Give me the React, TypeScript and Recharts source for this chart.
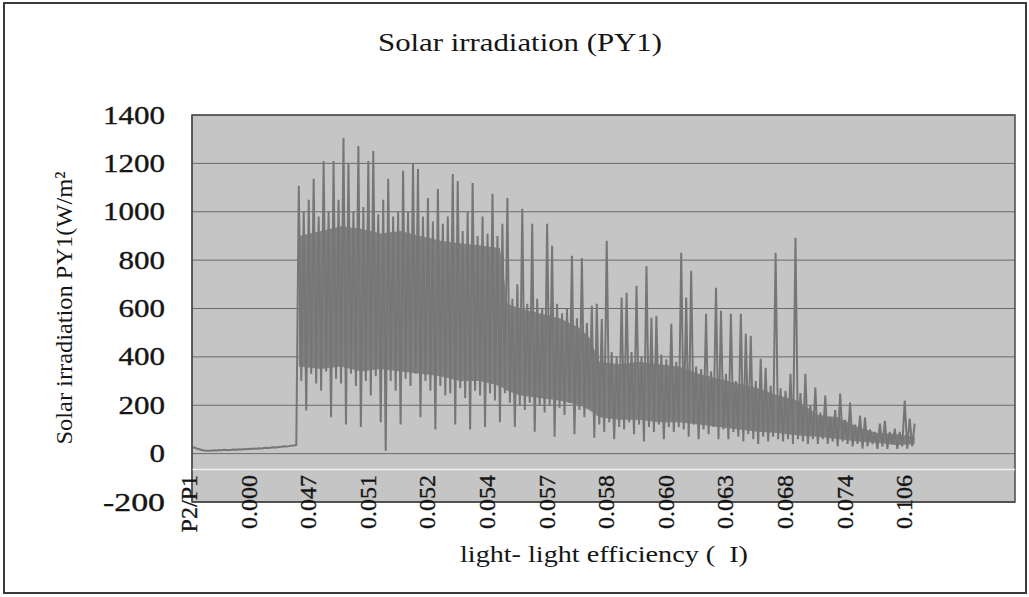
import React from 'react';
import { ComposedChart, Line, Area, XAxis, YAxis, CartesianGrid, ReferenceLine, ReferenceArea } from 'recharts';

const chartTitle = 'Solar irradiation (PY1)';
const yAxisTitle = 'Solar irradiation PY1(W/m²';
const xAxisTitle = 'light- light efficiency (  I)';

const xTickLabels = ['P2/P1', '0.000', '0.047', '0.051', '0.052', '0.054', '0.057', '0.058', '0.060', '0.063', '0.068', '0.074', '0.106'];
const pointsPerLabel = 24;
const xDomainMax = 331.4;
const yTicks = [-200, 0, 200, 400, 600, 800, 1000, 1200, 1400];
const whiteLineValue = -66;

// low readings before the measurement burst
const baselineValues = [
  22, 26, 20, 18, 15, 13, 12, 12, 13, 14,
  13, 15, 14, 16, 15, 14, 16, 17, 16, 18,
  17, 19, 18, 20, 19, 21, 20, 22, 21, 23,
  24, 23, 25, 26, 25, 27, 28, 30, 29, 31,
  33, 34, 36,
];

// dense irradiation readings (W/m2)
const irradiationValues = [
  1107, 300, 1000, 178, 1050, 330, 1136, 290, 980, 260,
  1210, 340, 1000, 150, 1210, 310, 1050, 290, 1305, 120,
  1198, 330, 1000, 280, 1272, 110, 1020, 300, 1210, 240,
  1251, 320, 990, 130, 1050, 12, 1136, 300, 980, 260,
  1000, 120, 1169, 310, 1000, 280, 1202, 330, 1177, 150,
  980, 300, 1057, 260, 960, 100, 1094, 280, 950, 240,
  980, 250, 1156, 120, 1127, 270, 920, 230, 1000, 100,
  1119, 260, 900, 240, 980, 110, 910, 250, 1074, 220,
  900, 130, 950, 250, 1057, 210, 640, 110, 700, 200,
  1012, 180, 620, 210, 950, 90, 640, 200, 600, 170,
  950, 200, 859, 70, 620, 190, 580, 160, 600, 210,
  818, 80, 560, 180, 809, 150, 540, 190, 611, 66,
  620, 120, 557, 90, 880, 130, 420, 60, 400, 110,
  645, 100, 665, 130, 420, 80, 694, 120, 400, 50,
  776, 110, 562, 90, 570, 120, 410, 60, 390, 110,
  537, 90, 380, 110, 830, 100, 645, 70, 756, 120,
  360, 60, 350, 100, 578, 80, 340, 110, 686, 60,
  591, 100, 330, 60, 578, 90, 300, 70, 578, 50,
  496, 80, 487, 60, 300, 40, 392, 70, 355, 50,
  280, 70, 830, 60, 270, 50, 260, 60, 330, 40,
  892, 60, 250, 50, 330, 40, 200, 60, 273, 40,
  170, 60, 240, 40, 150, 50, 180, 30, 248, 50,
  140, 40, 211, 30, 120, 40, 157, 20, 149, 30,
  100, 40, 90, 20, 124, 30, 136, 20, 90, 40,
  103, 20, 90, 30, 219, 20, 145, 30, 124,
];

// dense "body" of the trace, read at sample positions
const bodyIndex = [43, 52, 60, 68, 76, 84, 92, 100, 108, 116, 124, 127, 132, 140, 148, 156, 160, 164, 172, 180, 188, 196, 204, 212, 220, 228, 236, 244, 252, 260, 268, 276, 284, 291];
const bodyTop = [900, 920, 940, 930, 910, 920, 900, 880, 870, 860, 850, 620, 600, 580, 560, 520, 480, 380, 370, 380, 370, 360, 330, 310, 290, 270, 240, 220, 160, 150, 110, 85, 80, 70];
const bodyBottom = [360, 350, 360, 340, 350, 340, 330, 320, 300, 300, 280, 260, 240, 230, 220, 200, 180, 150, 140, 140, 130, 130, 120, 110, 100, 90, 85, 75, 70, 60, 50, 45, 35, 40];

const series = [...baselineValues, ...irradiationValues];
const data = series.map((v, i) => {
  const b = bodyIndex.indexOf(i);
  return { idx: i, py1: v, body: b >= 0 ? [bodyBottom[b], bodyTop[b]] : null };
});
const xTicks = xTickLabels.map((_, k) => k * pointsPerLabel);

const SERIF = 'Liberation Serif, Times New Roman, serif';
const INK = '#151515';

const XTick = (props: any) => {
  const { x, y, payload } = props;
  const label = xTickLabels[Math.round(payload.value / pointsPerLabel)];
  const tx = x + 5;
  const ty = y - 27;
  return (
    <text x={tx} y={ty} transform={`rotate(-90 ${tx} ${ty})`} textAnchor="end" style={{ fontFamily: SERIF }} fontSize={24}
      fill={INK} stroke={INK} strokeWidth={0.35}>
      {label}
    </text>
  );
};

const YTick = (props: any) => {
  const { x, y, payload } = props;
  const s = String(payload.value);
  return (
    <text x={x} y={y} textAnchor="end" dominantBaseline="central" style={{ fontFamily: SERIF }} fontSize={25}
      fill={INK} stroke={INK} strokeWidth={0.35}
      textLength={s.length * 15.5} lengthAdjust="spacingAndGlyphs">
      {s}
    </text>
  );
};

export default function App() {
  return (
    <div style={{ position: 'absolute', left: 0, top: 0, width: 1029, height: 597, background: '#ffffff' }}>
      <ComposedChart width={1029} height={597} data={data} margin={{ top: 115, right: 14, bottom: 0, left: 112 }}>
        <CartesianGrid vertical={false} stroke="#6a6a6a" fill="#c5c5c5" fillOpacity={1} />
        <XAxis type="number" dataKey="idx" domain={[0, xDomainMax]} ticks={xTicks} interval={0} allowDataOverflow
          height={95} tickSize={0} tickMargin={0} axisLine={{ stroke: '#444' }} tickLine={false} tick={<XTick />} />
        <YAxis type="number" domain={[-200, 1400]} ticks={yTicks} interval={0} width={80}
          tickSize={0} tickMargin={27} axisLine={{ stroke: '#444' }} tickLine={false} tick={<YTick />} />
        <ReferenceLine y={whiteLineValue} stroke="#f0f0f0" strokeWidth={1.5} />
        <Area type="linear" dataKey="body" connectNulls stroke="none" fill="#808080" fillOpacity={1} dot={false} activeDot={false} isAnimationActive={false} />
        <Line type="linear" dataKey="py1" stroke="#767676" strokeWidth={2} dot={false} activeDot={false} isAnimationActive={false} />
        <ReferenceArea x1={0} x2={xDomainMax} y1={-200} y2={1400} fill="none" stroke="#4a4a4a" strokeWidth={1.5} ifOverflow="visible" />
      </ComposedChart>
      <svg width={1029} height={597} style={{ position: 'absolute', left: 0, top: 0, pointerEvents: 'none' }}>
        <rect x={4} y={3} width={1022} height={590} fill="none" stroke="#3a3a3a" strokeWidth={2} />
        <text x={520} y={51} textAnchor="middle" style={{ fontFamily: SERIF }} fontSize={25} fill={INK}
          textLength={284} lengthAdjust="spacingAndGlyphs">{chartTitle}</text>
        <text x={72} y={308} transform="rotate(-90 72 308)" textAnchor="middle" style={{ fontFamily: SERIF }} fontSize={24} fill={INK}
          textLength={273} lengthAdjust="spacingAndGlyphs">{yAxisTitle}</text>
        <text x={604} y={562} textAnchor="middle" style={{ fontFamily: SERIF, whiteSpace: 'pre' }} fontSize={24} fill={INK}
          textLength={288} lengthAdjust="spacingAndGlyphs">{xAxisTitle}</text>
      </svg>
    </div>
  );
}
